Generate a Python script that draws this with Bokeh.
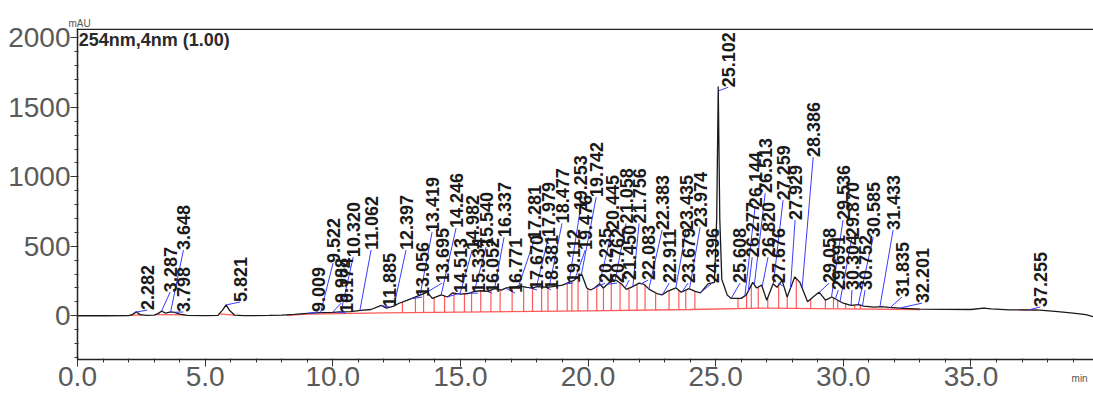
import numpy as np
from bokeh.plotting import figure
from bokeh.models import Label, Span, SingleIntervalTicker, NumeralTickFormatter
from bokeh.core.properties import value
from bokeh.embed import file_html
from bokeh.resources import INLINE

# ---- chromatogram trace ----
trace_time = [0.0, 1.0, 2.0, 2.15, 2.3, 2.45, 2.7, 3.0, 3.15, 3.3, 3.45, 3.65, 3.8, 4.0, 4.3,
              5.0, 5.5, 5.68, 5.82, 5.95, 6.15, 6.5, 7.5, 8.0, 8.5, 9.0, 9.5, 10.0, 10.3, 10.7,
              11.1, 11.5, 11.9, 12.1, 12.4, 12.6, 12.9, 13.1, 13.45, 13.7, 13.9, 14.25, 14.5,
              14.7, 15.0, 15.3, 15.55, 15.8, 16.05, 16.35, 16.6, 16.8, 17.1, 17.3, 17.6, 17.85,
              18.0, 18.4, 18.6, 19.0, 19.25, 19.45, 19.75, 19.95, 20.1, 20.25, 20.45, 20.6,
              20.9, 21.1, 21.3, 21.5, 21.75, 22.0, 22.2, 22.4, 22.7, 22.9, 23.1, 23.45, 23.65,
              23.95, 24.2, 24.4, 24.7, 24.95, 25.04, 25.1, 25.16, 25.24, 25.3, 25.45, 25.6,
              26.0, 26.2, 26.45, 26.6, 26.8, 27.0, 27.25, 27.4, 27.6, 27.8, 28.1, 28.3, 28.6,
              28.85, 29.05, 29.3, 29.55, 29.8, 30.0, 30.3, 30.6, 30.8, 31.2, 31.5, 31.8, 32.2,
              33.0, 34.0, 35.0, 35.5, 35.8, 36.5, 37.3, 37.7, 38.4, 39.0, 39.5, 39.8]
trace_mau = [0, 0, 1, 8, 28, 8, 2, 4, 15, 33, 18, 28, 25, 12, 3,
             1, 3, 40, 78, 40, 5, 1, 2, 5, 10, 17, 22, 24, 28, 30,
             38, 45, 75, 55, 70, 90, 110, 125, 150, 170, 125, 150, 135,
             165, 155, 160, 175, 180, 175, 195, 185, 200, 205, 215, 205, 200,
             210, 205, 210, 220, 240, 255, 300, 200, 185, 200, 230, 200,
             250, 255, 230, 190, 210, 235, 225, 190, 160, 150, 175, 200, 170,
             195, 175, 165, 230, 240, 700, 1650, 700, 260, 230, 150, 125,
             125, 150, 240, 200, 220, 112, 230, 205, 255, 135, 280, 240, 100,
             140, 170, 112, 135, 110, 90, 75, 80, 70, 62, 65, 60, 55,
             48, 46, 45, 55, 50, 42, 42, 40, 29, 19, 8, -7]

# ---- peak labels (retention times) and label anchors ----
peak_labels = ["2.282", "3.287", "3.648", "3.798", "5.821", "9.009", "9.522", "9.988", "10.174",
               "10.320", "11.062", "11.885", "12.397", "13.056", "13.419", "13.695", "14.246",
               "14.513", "14.982", "15.334", "15.540", "16.052", "16.337", "16.771", "17.281",
               "17.670", "17.979", "18.381", "18.477", "19.112", "19.253", "19.476", "19.742",
               "20.235", "20.445", "20.762", "21.058", "21.450", "21.756", "22.083", "22.383",
               "22.911", "23.435", "23.679", "23.974", "24.396", "25.102", "25.608", "26.144",
               "26.277", "26.513", "26.820", "27.259", "27.676", "27.929", "28.386", "29.058",
               "29.536", "29.691", "29.870", "30.304", "30.585", "30.752", "31.433", "31.835",
               "32.201", "37.255"]
label_x = [2.73, 3.63, 4.15, 4.15, 6.37, 9.43, 10.01, 10.33, 10.52,
           10.80, 11.50, 12.21, 12.87, 13.50, 13.89, 14.28, 14.83,
           14.99, 15.46, 15.69, 16.01, 16.24, 16.71, 17.14, 17.89,
           18.00, 18.45, 18.55, 18.98, 19.42, 19.69, 19.89, 20.32,
           20.67, 20.94, 21.14, 21.49, 21.61, 22.00, 22.36, 22.90,
           23.18, 23.84, 23.92, 24.39, 24.86, 25.49, 25.95, 26.54,
           26.43, 26.94, 27.05, 27.64, 27.45, 28.11, 28.82, 29.44,
           29.99, 29.80, 30.34, 30.34, 31.17, 30.85, 31.95, 32.30,
           33.09, 37.71]
label_base = [41, 170, 473, 27, 99, 27, 379, 91, 19,
              422, 473, 63, 473, 135, 602, 235, 631,
              163, 473, 163, 494, 163, 566, 163, 545,
              185, 566, 185, 665, 235, 759, 473, 854,
              235, 617, 235, 665, 257, 665, 257, 617,
              235, 617, 235, 638, 235, 1645, 235, 782,
              422, 883, 422, 832, 235, 689, 1142, 235,
              689, 185, 566, 185, 566, 185, 617, 135,
              91, 63]

# ---- integration baseline (red) ----
base_time = [8.2, 9.0, 12.0, 16.0, 20.0, 24.0, 27.0, 30.0, 33.0]
base_mau = [3, 12, 20, 28, 35, 45, 55, 50, 45]
seg_start = [2.05, 3.05, 5.55, 36.9]
seg_end = [2.55, 4.2, 6.15, 37.6]

peak_t = np.array([float(s) for s in peak_labels])
tt = np.array(trace_time)
vv = np.array(trace_mau)

p = figure(width=1093, height=394, x_range=(0, 39.8), y_range=(-315, 2068),
           output_backend="svg", toolbar_location=None,
           min_border_left=77, min_border_right=0, min_border_top=28, min_border_bottom=35)
p.outline_line_color = None
p.xgrid.visible = False
p.ygrid.visible = False
p.background_fill_color = "white"
p.border_fill_color = "white"

# "mAU" unit label as a small title above the y axis
p.title.text = "mAU"
p.title.align = "left"
p.title.offset = -9
p.title.standoff = 0
p.title.text_font = "Liberation Sans"
p.title.text_font_size = "10px"
p.title.text_font_style = "normal"
p.title.text_color = "#555555"

# axes
p.xaxis.ticker = SingleIntervalTicker(interval=5, num_minor_ticks=5)
p.yaxis.ticker = SingleIntervalTicker(interval=500, num_minor_ticks=5)
p.xaxis.formatter = NumeralTickFormatter(format="0.0")
for ax in (p.xaxis[0], p.yaxis[0]):
    ax.axis_line_color = "#222222"
    ax.axis_line_width = 1.5
    ax.major_tick_line_color = "#333333"
    ax.minor_tick_line_color = "#333333"
    ax.major_tick_out = 7
    ax.major_tick_in = 0
    ax.minor_tick_out = 3
    ax.minor_tick_in = 1
    ax.major_label_standoff = 0
    ax.major_label_text_font = "Liberation Sans"
    ax.major_label_text_font_size = "28px"
    ax.major_label_text_color = "#5a5a5a"

# "min" unit label at the right end of the x axis (padded so it stays inside the page)
xa = p.xaxis[0]
xa.axis_label = "min" + "\u00a0" * 10
xa.axis_label_align = "end"
xa.axis_label_standoff = -16
xa.axis_label_text_font = "Liberation Sans"
xa.axis_label_text_font_size = "10px"
xa.axis_label_text_font_style = "normal"
xa.axis_label_text_color = "#555555"

# top border line
p.add_layout(Span(location=2062, dimension="width", line_color="#222222", line_width=1.5))

# red baseline
p.line(base_time, base_mau, line_color="#ff5a5a", line_width=1.3)
for s, e in zip(seg_start, seg_end):
    p.line([s, e], [np.interp(s, tt, vv), np.interp(e, tt, vv)], line_color="#ff5a5a", line_width=1.3)

# red drop lines between neighbouring peaks in the clusters
drops = []
for a, b in zip(peak_t[:-1], peak_t[1:]):
    if 12.3 <= a and b <= 24.5 or 25.5 <= a and b <= 31.0:
        drops.append((a + b) / 2)
drops = np.array(drops)
p.segment(x0=drops, y0=np.interp(drops, base_time, base_mau),
          x1=drops, y1=np.interp(drops, tt, vv), line_color="#ff5a5a", line_width=1.2)

# trace
p.line(trace_time, trace_mau, line_color="#1a1a1a", line_width=1.3)

# blue connectors from peak apex to label
apex = np.interp(peak_t, tt, vv)
p.segment(x0=peak_t, y0=apex, x1=label_x, y1=label_base, line_color="#3a3aff", line_width=1)

# peak labels
p.text(x=label_x, y=label_base, text=peak_labels, angle=np.pi / 2,
       text_align="left", text_baseline="middle",
       text_font=value("Liberation Sans"), text_font_style="bold",
       text_font_size="18px", text_color="#1a1a1a")

p.add_layout(Label(x=0.05, y=2060, text="254nm,4nm (1.00)", text_baseline="top",
                   text_font="Liberation Sans", text_font_style="bold",
                   text_font_size="18px", text_color="#2a2a2a"))

open("out.html", "w").write(file_html(p, INLINE))
